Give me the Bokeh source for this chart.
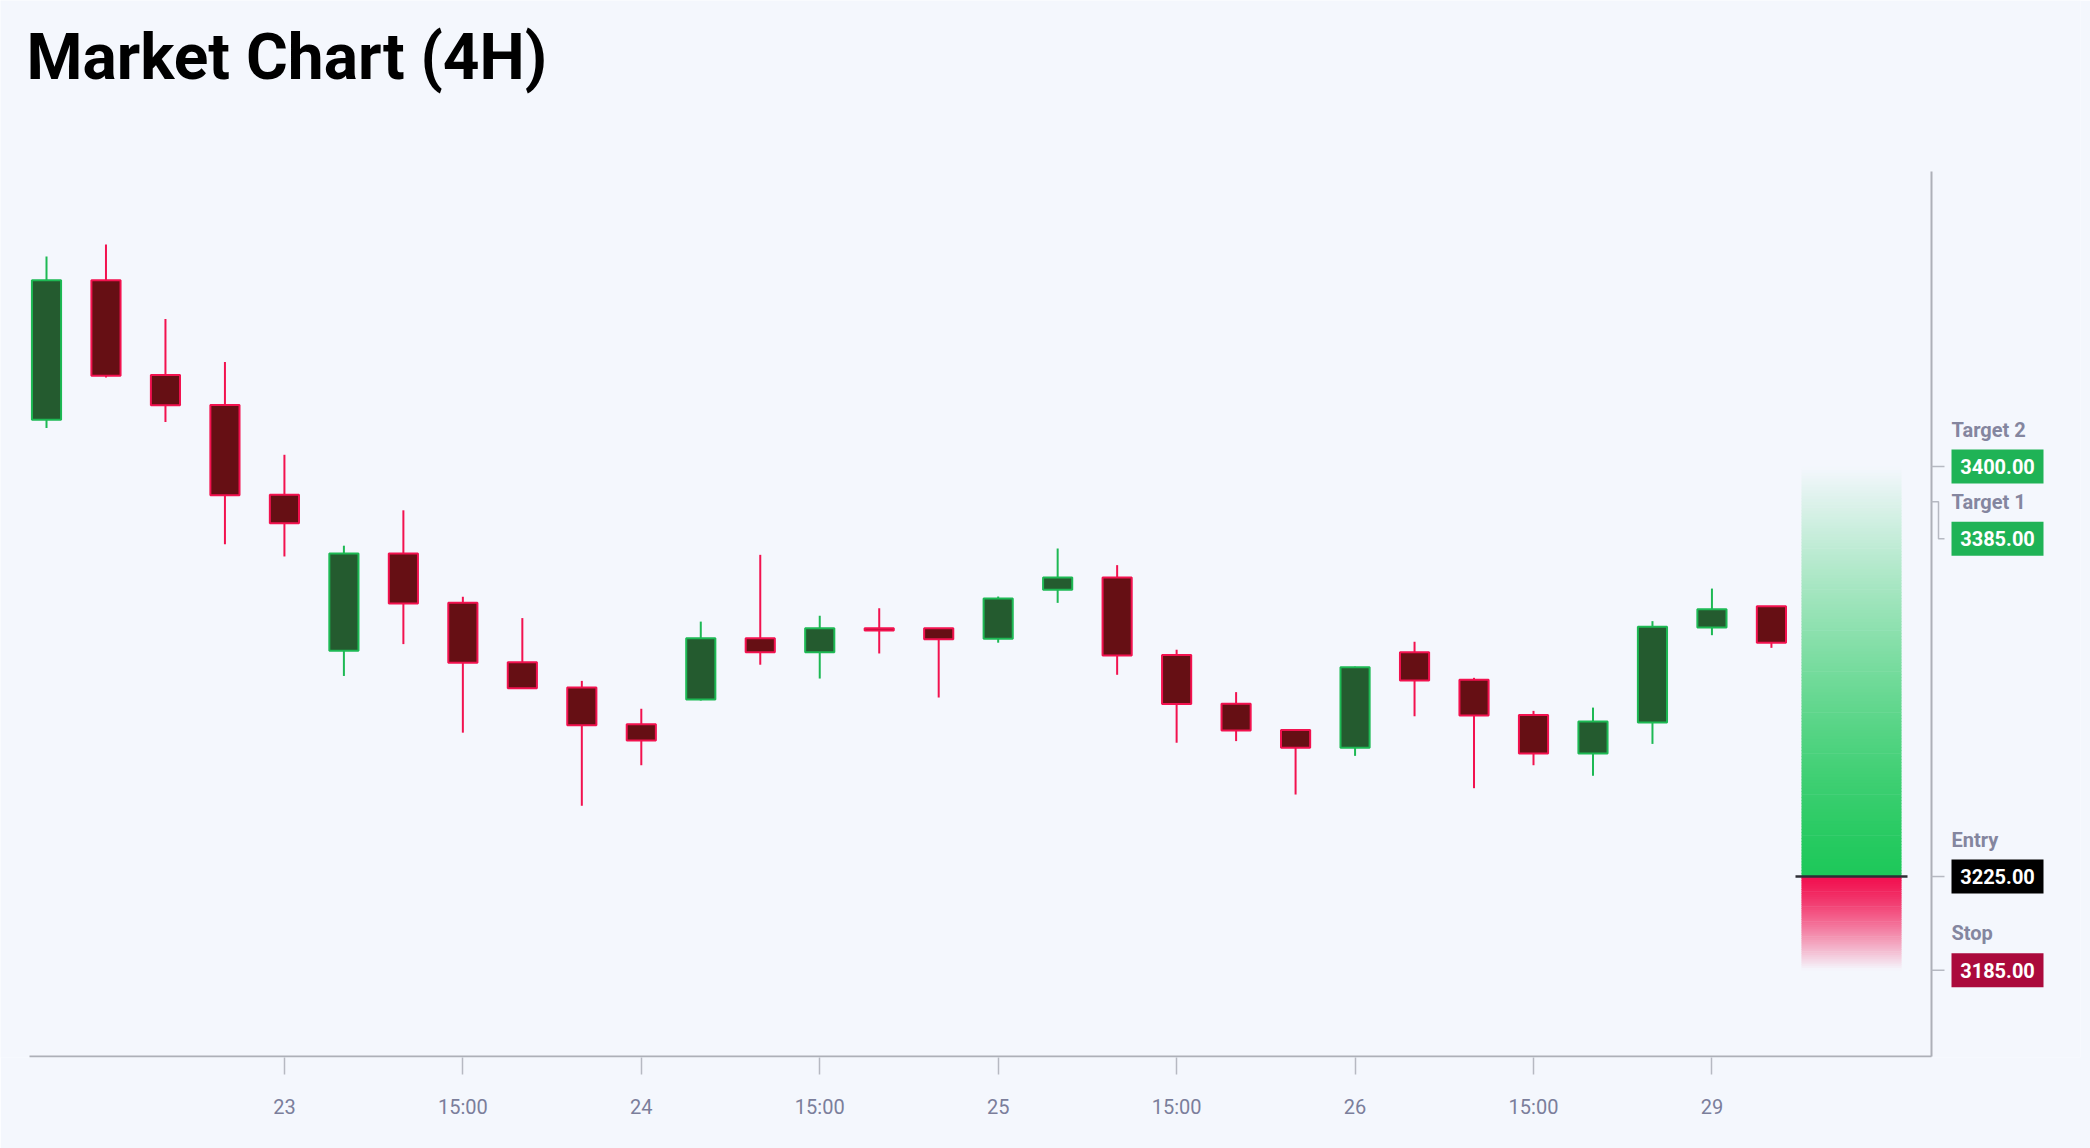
from bokeh.plotting import figure
from bokeh.models import Range1d, FixedTicker
from bokeh.core.properties import value
from bokeh.embed import file_html
from bokeh.resources import INLINE

# ---------------- data ----------------
open_ = [3420.0, 3479.5, 3439.0, 3426.2, 3387.9, 3321.4, 3362.9, 3341.8, 3316.5, 3305.7,
         3290.0, 3300.6, 3326.7, 3320.7, 3331.0, 3331.0, 3326.5, 3347.4, 3352.6, 3319.6,
         3298.7, 3287.5, 3280.0, 3320.7, 3309.0, 3293.9, 3277.5, 3290.7, 3331.3, 3340.4]
high = [3489.6, 3494.8, 3463.0, 3444.6, 3405.0, 3366.2, 3381.3, 3344.4, 3335.3, 3308.5,
        3296.6, 3333.8, 3362.3, 3336.3, 3339.5, 3331.0, 3344.5, 3365.0, 3357.9, 3321.8,
        3303.7, 3287.6, 3314.6, 3325.2, 3309.8, 3295.7, 3297.1, 3334.0, 3347.9, 3340.4]
low = [3416.4, 3438.0, 3419.0, 3366.8, 3361.6, 3310.6, 3324.2, 3286.4, 3305.4, 3255.2,
       3272.5, 3300.1, 3315.4, 3309.5, 3320.2, 3301.4, 3324.8, 3341.8, 3311.1, 3282.1,
       3282.8, 3260.0, 3276.5, 3293.4, 3262.7, 3272.5, 3268.0, 3281.6, 3328.0, 3322.6]
close = [3479.5, 3438.7, 3426.1, 3387.7, 3375.8, 3362.9, 3341.5, 3316.2, 3305.4, 3289.6,
         3283.1, 3326.7, 3320.7, 3331.0, 3330.0, 3326.3, 3343.7, 3352.6, 3319.3, 3298.6,
         3287.3, 3280.0, 3314.3, 3308.7, 3293.7, 3277.5, 3291.2, 3331.6, 3339.1, 3324.8]

tick_positions = [4, 7, 10, 13, 16, 19, 22, 25, 28]
tick_labels = ["23", "15:00", "24", "15:00", "25", "15:00", "26", "15:00", "29"]

level_names = ["Target 2", "Target 1", "Entry", "Stop"]
level_values = [3400.0, 3385.0, 3225.0, 3185.0]
entry_price = 3225.0
target_price = 3400.0
stop_price = 3185.0

title_text = "Market Chart (4H)"

# ---------------- style ----------------
FONT = "Roboto"
BG = "#f4f7fd"
AXIS = "#adb0b8"
TICK = "#b6b9c2"
TXT = "#7b7e9b"
LVL_TXT = "#84869f"
UP_FILL, UP_LINE = "#245b2f", "#1db954"
DN_FILL, DN_LINE = "#660f14", "#f2124f"
GRAD_UP, GRAD_DN = "#1ec85a", "#f2104f"
BOX_COLORS = ["#1fb356", "#1fb356", "#000000", "#ab0a3c"]

# layout (pixels -> data helpers)
FW, FH = 2080, 1057          # frame size in px
PPX = 59.48                  # px per candle slot
PPY = 2.343                  # px per price unit
X_START = -46 / PPX
X_END = X_START + FW / PPX
Y_TOP = 3400 + 466 / PPY
Y_BOT = Y_TOP - FH / PPY


def X(px):
    return X_START + px / PPX


def Y(py):
    return Y_TOP - py / PPY


p = figure(frame_width=FW, frame_height=FH,
           x_range=Range1d(X_START, X_END), y_range=Range1d(Y_BOT, Y_TOP),
           y_axis_location=None, output_backend="svg", toolbar_location=None,
           min_border_left=0, min_border_right=10, min_border_top=0, min_border_bottom=91,
           background_fill_color=BG, border_fill_color=BG, outline_line_color=None)
p.grid.visible = False

AX_X = X(1931)     # right axis position
AX_Y = Y(1056)     # bottom axis position
PLOT_L = X(29)
PLOT_T = Y(171)

xa = p.xaxis[0]
xa.ticker = FixedTicker(ticks=tick_positions)
xa.major_label_overrides = {t: l for t, l in zip(tick_positions, tick_labels)}
xa.minor_tick_line_color = None
xa.major_tick_in = 0
xa.major_tick_out = 17
xa.axis_line_color = None
xa.major_tick_line_color = TICK
xa.major_tick_line_width = 1.5
xa.major_label_text_font = FONT
xa.major_label_text_font_size = "20px"
xa.major_label_text_color = TXT
xa.major_label_standoff = 20

# axis lines
p.segment(x0=[PLOT_L, AX_X], y0=[AX_Y, AX_Y], x1=[AX_X, AX_X], y1=[AX_Y, PLOT_T],
          line_color=AXIS, line_width=2)

# ---------------- candles ----------------
idx = list(range(len(open_)))
up = [c >= o for o, c in zip(open_, close)]
tops = [max(o, c) for o, c in zip(open_, close)]
bots = [min(o, c) for o, c in zip(open_, close)]
lines = [UP_LINE if u else DN_LINE for u in up]
fills = [UP_FILL if u else DN_FILL for u in up]

p.segment(x0=idx, y0=low, x1=idx, y1=high, line_color=lines, line_width=2)
p.vbar(x=idx, width=0.49, top=tops, bottom=bots, fill_color=fills,
       line_color=lines, line_width=2)


# ---------------- position gradient ----------------
def blend(hex_c, a, bg=BG):
    c = [int(hex_c[i:i + 2], 16) for i in (1, 3, 5)]
    b = [int(bg[i:i + 2], 16) for i in (1, 3, 5)]
    m = [round(a * ci + (1 - a) * bi) for ci, bi in zip(c, b)]
    return "#%02x%02x%02x" % tuple(m)


PL, PR = X(1801), X(1901)


def gradient(y_from, y_to, base, n):
    b, t, cols = [], [], []
    step = (y_to - y_from) / n
    for k in range(n):
        ya_ = y_from + step * k
        yb_ = y_from + step * (k + 1)
        frac = (k + 0.5) / n
        a = 1 - frac ** 1.3
        lo, hi = min(ya_, yb_), max(ya_, yb_)
        b.append(lo - 0.15)
        t.append(hi + 0.15)
        cols.append(blend(base, a))
    return b, t, cols


gb, gt, gc = gradient(entry_price, target_price, GRAD_UP, 140)
p.quad(left=PL, right=PR, bottom=gb, top=gt, fill_color=gc, line_color=None)
rb, rt, rc = gradient(entry_price, stop_price, GRAD_DN, 50)
p.quad(left=PL, right=PR, bottom=rb, top=rt, fill_color=rc, line_color=None)

p.segment(x0=[X(1795)], x1=[X(1907)], y0=[entry_price], y1=[entry_price],
          line_color="#2e2f36", line_width=2.5)

# ---------------- right-side level markers ----------------
shift_px = [37 if n == "Target 1" else 0 for n in level_names]
box_y = [v - s / PPY for v, s in zip(level_values, shift_px)]

tick_lv = [v for v, s in zip(level_values, shift_px) if s == 0]
p.segment(x0=[AX_X] * len(tick_lv), x1=[AX_X + 13 / PPX] * len(tick_lv),
          y0=tick_lv, y1=tick_lv, line_color=TICK, line_width=1.5)
for v, b, s in zip(level_values, box_y, shift_px):
    if s:
        p.line(x=[AX_X, AX_X + 7 / PPX, AX_X + 7 / PPX, AX_X + 13 / PPX], y=[v, v, b, b],
               line_color=TICK, line_width=1.5)

box_cx = AX_X + 66 / PPX
p.rect(x=[box_cx] * 4, y=box_y, width=92, height=34, width_units="screen",
       height_units="screen", fill_color=BOX_COLORS, line_color=None)
p.text(x=[box_cx] * 4, y=box_y, text=["%.2f" % v for v in level_values],
       text_font=value(FONT), text_font_size="20px", text_font_style="bold",
       text_color="white", text_align="center", text_baseline="middle")
p.text(x=[AX_X + 20 / PPX] * 4, y=[b + 37 / PPY for b in box_y], text=level_names,
       text_font=value(FONT), text_font_size="20px", text_font_style="bold",
       text_color=LVL_TXT, text_align="left", text_baseline="middle")

# ---------------- title ----------------
p.text(x=[X(26)], y=[Y(57)], text=[title_text], text_font=value(FONT),
       text_font_size="64px", text_font_style="bold", text_color="#000000",
       text_align="left", text_baseline="middle")

open("out.html", "w").write(file_html(p, INLINE))
